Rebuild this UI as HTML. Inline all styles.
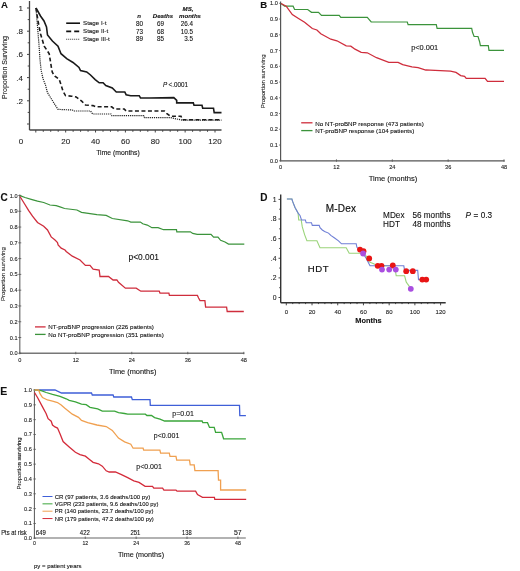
<!DOCTYPE html>
<html><head><meta charset="utf-8"><style>
html,body{margin:0;padding:0;background:#fff;width:520px;height:571px;overflow:hidden}
svg{display:block;font-family:"Liberation Sans", sans-serif;filter:blur(0.25px)}
text{stroke:currentColor;stroke-width:0.1px}
</style></head><body>
<svg width="520" height="571" viewBox="0 0 520 571">
<rect width="520" height="571" fill="#fff"/>
<text x="0.9" y="8.0" font-size="9.6" text-anchor="start" font-weight="bold" font-style="normal" fill="#111" color="#111">A</text>
<line x1="29.5" y1="1" x2="29.5" y2="130" stroke="#444" stroke-width="1.3"/>
<line x1="29.5" y1="130" x2="221.5" y2="130" stroke="#444" stroke-width="1.3"/>
<line x1="27.0" y1="124.0" x2="29.5" y2="124.0" stroke="#444" stroke-width="1"/>
<line x1="27.7" y1="112.4" x2="29.5" y2="112.4" stroke="#444" stroke-width="1"/>
<line x1="27.0" y1="100.8" x2="29.5" y2="100.8" stroke="#444" stroke-width="1"/>
<line x1="27.7" y1="89.2" x2="29.5" y2="89.2" stroke="#444" stroke-width="1"/>
<line x1="27.0" y1="77.6" x2="29.5" y2="77.6" stroke="#444" stroke-width="1"/>
<line x1="27.7" y1="66.0" x2="29.5" y2="66.0" stroke="#444" stroke-width="1"/>
<line x1="27.0" y1="54.400000000000006" x2="29.5" y2="54.400000000000006" stroke="#444" stroke-width="1"/>
<line x1="27.7" y1="42.80000000000001" x2="29.5" y2="42.80000000000001" stroke="#444" stroke-width="1"/>
<line x1="27.0" y1="31.19999999999999" x2="29.5" y2="31.19999999999999" stroke="#444" stroke-width="1"/>
<line x1="27.7" y1="19.599999999999994" x2="29.5" y2="19.599999999999994" stroke="#444" stroke-width="1"/>
<line x1="27.0" y1="8.0" x2="29.5" y2="8.0" stroke="#444" stroke-width="1"/>
<text x="23" y="11" font-size="8" text-anchor="end" font-weight="normal" font-style="normal" fill="#222" color="#222">1</text>
<text x="23" y="34.19999999999999" font-size="8" text-anchor="end" font-weight="normal" font-style="normal" fill="#222" color="#222">.8</text>
<text x="23" y="57.400000000000006" font-size="8" text-anchor="end" font-weight="normal" font-style="normal" fill="#222" color="#222">.6</text>
<text x="23" y="80.6" font-size="8" text-anchor="end" font-weight="normal" font-style="normal" fill="#222" color="#222">.4</text>
<text x="23" y="103.8" font-size="8" text-anchor="end" font-weight="normal" font-style="normal" fill="#222" color="#222">.2</text>
<line x1="35.8" y1="130" x2="35.8" y2="132.5" stroke="#444" stroke-width="1"/>
<line x1="43.266666666666666" y1="130" x2="43.266666666666666" y2="131.8" stroke="#444" stroke-width="1"/>
<line x1="50.733333333333334" y1="130" x2="50.733333333333334" y2="131.8" stroke="#444" stroke-width="1"/>
<line x1="58.199999999999996" y1="130" x2="58.199999999999996" y2="131.8" stroke="#444" stroke-width="1"/>
<line x1="65.66666666666666" y1="130" x2="65.66666666666666" y2="132.5" stroke="#444" stroke-width="1"/>
<line x1="73.13333333333333" y1="130" x2="73.13333333333333" y2="131.8" stroke="#444" stroke-width="1"/>
<line x1="80.6" y1="130" x2="80.6" y2="131.8" stroke="#444" stroke-width="1"/>
<line x1="88.06666666666666" y1="130" x2="88.06666666666666" y2="131.8" stroke="#444" stroke-width="1"/>
<line x1="95.53333333333333" y1="130" x2="95.53333333333333" y2="132.5" stroke="#444" stroke-width="1"/>
<line x1="102.99999999999999" y1="130" x2="102.99999999999999" y2="131.8" stroke="#444" stroke-width="1"/>
<line x1="110.46666666666667" y1="130" x2="110.46666666666667" y2="131.8" stroke="#444" stroke-width="1"/>
<line x1="117.93333333333334" y1="130" x2="117.93333333333334" y2="131.8" stroke="#444" stroke-width="1"/>
<line x1="125.39999999999999" y1="130" x2="125.39999999999999" y2="132.5" stroke="#444" stroke-width="1"/>
<line x1="132.86666666666667" y1="130" x2="132.86666666666667" y2="131.8" stroke="#444" stroke-width="1"/>
<line x1="140.33333333333331" y1="130" x2="140.33333333333331" y2="131.8" stroke="#444" stroke-width="1"/>
<line x1="147.8" y1="130" x2="147.8" y2="131.8" stroke="#444" stroke-width="1"/>
<line x1="155.26666666666665" y1="130" x2="155.26666666666665" y2="132.5" stroke="#444" stroke-width="1"/>
<line x1="162.73333333333332" y1="130" x2="162.73333333333332" y2="131.8" stroke="#444" stroke-width="1"/>
<line x1="170.2" y1="130" x2="170.2" y2="131.8" stroke="#444" stroke-width="1"/>
<line x1="177.66666666666669" y1="130" x2="177.66666666666669" y2="131.8" stroke="#444" stroke-width="1"/>
<line x1="185.13333333333333" y1="130" x2="185.13333333333333" y2="132.5" stroke="#444" stroke-width="1"/>
<line x1="192.60000000000002" y1="130" x2="192.60000000000002" y2="131.8" stroke="#444" stroke-width="1"/>
<line x1="200.06666666666666" y1="130" x2="200.06666666666666" y2="131.8" stroke="#444" stroke-width="1"/>
<line x1="207.5333333333333" y1="130" x2="207.5333333333333" y2="131.8" stroke="#444" stroke-width="1"/>
<line x1="215.0" y1="130" x2="215.0" y2="132.5" stroke="#444" stroke-width="1"/>
<text x="21" y="144" font-size="8" text-anchor="middle" font-weight="normal" font-style="normal" fill="#222" color="#222">0</text>
<text x="65.66666666666666" y="144" font-size="8" text-anchor="middle" font-weight="normal" font-style="normal" fill="#222" color="#222">20</text>
<text x="95.53333333333333" y="144" font-size="8" text-anchor="middle" font-weight="normal" font-style="normal" fill="#222" color="#222">40</text>
<text x="125.39999999999999" y="144" font-size="8" text-anchor="middle" font-weight="normal" font-style="normal" fill="#222" color="#222">60</text>
<text x="155.26666666666665" y="144" font-size="8" text-anchor="middle" font-weight="normal" font-style="normal" fill="#222" color="#222">80</text>
<text x="185.13333333333333" y="144" font-size="8" text-anchor="middle" font-weight="normal" font-style="normal" fill="#222" color="#222">100</text>
<text x="215.0" y="144" font-size="8" text-anchor="middle" font-weight="normal" font-style="normal" fill="#222" color="#222">120</text>
<text x="118" y="154.9" font-size="6.8" text-anchor="middle" font-weight="normal" font-style="normal" fill="#111" color="#111">Time (months)</text>
<text x="7" y="67.5" font-size="7.0" text-anchor="middle" font-weight="normal" font-style="normal" fill="#222" color="#222" transform="rotate(-90 7 67.5)">Proportion Surviving</text>
<polyline points="36.0,8.0 40.5,16.0 44.0,21.0 46.5,27.0 47.5,35.0 52.4,41.0 58.0,46.2 61.0,53.7 66.7,58.7 73.0,62.5 79.0,67.5 80.5,70.6 86.7,71.9 90.5,75.0 95.2,79.6 99.2,82.8 103.1,82.8 105.8,85.5 112.3,88.0 116.3,92.0 124.8,92.0 126.1,94.7 130.7,95.7 139.2,95.7 140.5,98.0 150.0,98.0 173.8,97.6 176.7,100.3 176.7,102.9 193.3,102.9 194.0,105.3 202.0,105.3 202.7,108.2 213.5,108.2 214.2,112.6 221.5,112.6" fill="none" stroke="#1a1a1a" stroke-width="1.6" stroke-linejoin="miter"/>
<polyline points="36.0,8.0 38.0,21.0 40.5,33.7 44.2,46.2 49.2,53.7 51.8,70.0 52.4,72.5 54.9,76.2 59.2,79.4 61.1,85.0 63.0,91.2 65.5,95.6 71.7,96.2 76.1,96.9 81.7,101.2 85.5,105.0 93.0,105.6 95.9,106.8 111.7,106.8 114.3,109.0 124.2,109.0 126.1,111.0 164.4,111.0 166.6,113.3 170.2,116.2 181.0,116.2 182.5,119.8 221.5,119.8" fill="none" stroke="#1a1a1a" stroke-width="1.6" stroke-linejoin="miter" stroke-dasharray="4 2.5"/>
<polyline points="36.0,8.0 37.4,25.0 39.2,47.5 40.0,60.0 41.1,70.0 43.0,78.7 45.5,85.0 47.4,92.5 50.5,97.5 53.6,102.5 58.0,109.4 72.4,110.0 74.2,111.0 90.5,111.0 92.6,114.0 111.0,114.0 111.7,115.7 143.8,115.7 144.5,117.6 170.2,117.6 182.5,120.2 221.5,120.2" fill="none" stroke="#222" stroke-width="1.2" stroke-linejoin="miter" stroke-dasharray="1.2 0.9"/>
<line x1="66.2" y1="23.2" x2="80" y2="23.2" stroke="#111" stroke-width="1.6"/>
<line x1="66.2" y1="31.4" x2="80" y2="31.4" stroke="#111" stroke-width="1.6" stroke-dasharray="5 3"/>
<line x1="66.2" y1="39.3" x2="80" y2="39.3" stroke="#333" stroke-width="1.1" stroke-dasharray="1 1"/>
<text x="83" y="25.3" font-size="6.2" text-anchor="start" font-weight="normal" font-style="normal" fill="#111" color="#111">Stage I-t</text>
<text x="83" y="33.2" font-size="6.2" text-anchor="start" font-weight="normal" font-style="normal" fill="#111" color="#111">Stage II-t</text>
<text x="83" y="41.1" font-size="6.2" text-anchor="start" font-weight="normal" font-style="normal" fill="#111" color="#111">Stage III-t</text>
<text x="139" y="18.4" font-size="6.1" text-anchor="middle" font-weight="bold" font-style="italic" fill="#111" color="#111">n</text>
<text x="163" y="18.4" font-size="6.1" text-anchor="middle" font-weight="bold" font-style="italic" fill="#111" color="#111">Deaths</text>
<text x="188" y="11.4" font-size="6.1" text-anchor="middle" font-weight="bold" font-style="italic" fill="#111" color="#111">MS,</text>
<text x="190" y="18.4" font-size="6.1" text-anchor="middle" font-weight="bold" font-style="italic" fill="#111" color="#111">months</text>
<text x="139.6" y="25.9" font-size="6.3" text-anchor="middle" font-weight="normal" font-style="normal" fill="#111" color="#111">80</text>
<text x="160.4" y="25.9" font-size="6.3" text-anchor="middle" font-weight="normal" font-style="normal" fill="#111" color="#111">69</text>
<text x="193" y="25.9" font-size="6.3" text-anchor="end" font-weight="normal" font-style="normal" fill="#111" color="#111">26.4</text>
<text x="139.6" y="33.5" font-size="6.3" text-anchor="middle" font-weight="normal" font-style="normal" fill="#111" color="#111">73</text>
<text x="160.4" y="33.5" font-size="6.3" text-anchor="middle" font-weight="normal" font-style="normal" fill="#111" color="#111">68</text>
<text x="193" y="33.5" font-size="6.3" text-anchor="end" font-weight="normal" font-style="normal" fill="#111" color="#111">10.5</text>
<text x="139.6" y="41.099999999999994" font-size="6.3" text-anchor="middle" font-weight="normal" font-style="normal" fill="#111" color="#111">89</text>
<text x="160.4" y="41.099999999999994" font-size="6.3" text-anchor="middle" font-weight="normal" font-style="normal" fill="#111" color="#111">85</text>
<text x="193" y="41.099999999999994" font-size="6.3" text-anchor="end" font-weight="normal" font-style="normal" fill="#111" color="#111">3.5</text>
<text x="163" y="86.6" font-size="6.3" text-anchor="start" font-weight="normal" font-style="italic" fill="#111" color="#111">P</text>
<text x="168.5" y="86.6" font-size="6.3" text-anchor="start" font-weight="normal" font-style="normal" fill="#111" color="#111">&lt;.0001</text>
<text x="260.2" y="8.0" font-size="9.6" text-anchor="start" font-weight="bold" font-style="normal" fill="#111" color="#111">B</text>
<line x1="280.6" y1="1.5" x2="280.6" y2="160.8" stroke="#555" stroke-width="1.2"/>
<line x1="280.6" y1="160.8" x2="504.6" y2="160.8" stroke="#555" stroke-width="1.2"/>
<line x1="279.1" y1="160.8" x2="280.6" y2="160.8" stroke="#555" stroke-width="0.8"/>
<text x="277.8" y="162.8" font-size="5.6" text-anchor="end" font-weight="normal" font-style="normal" fill="#222" color="#222">0.0</text>
<line x1="279.1" y1="145.05" x2="280.6" y2="145.05" stroke="#555" stroke-width="0.8"/>
<text x="277.8" y="147.05" font-size="5.6" text-anchor="end" font-weight="normal" font-style="normal" fill="#222" color="#222">0.1</text>
<line x1="279.1" y1="129.3" x2="280.6" y2="129.3" stroke="#555" stroke-width="0.8"/>
<text x="277.8" y="131.3" font-size="5.6" text-anchor="end" font-weight="normal" font-style="normal" fill="#222" color="#222">0.2</text>
<line x1="279.1" y1="113.55000000000001" x2="280.6" y2="113.55000000000001" stroke="#555" stroke-width="0.8"/>
<text x="277.8" y="115.55000000000001" font-size="5.6" text-anchor="end" font-weight="normal" font-style="normal" fill="#222" color="#222">0.3</text>
<line x1="279.1" y1="97.80000000000001" x2="280.6" y2="97.80000000000001" stroke="#555" stroke-width="0.8"/>
<text x="277.8" y="99.80000000000001" font-size="5.6" text-anchor="end" font-weight="normal" font-style="normal" fill="#222" color="#222">0.4</text>
<line x1="279.1" y1="82.05000000000001" x2="280.6" y2="82.05000000000001" stroke="#555" stroke-width="0.8"/>
<text x="277.8" y="84.05000000000001" font-size="5.6" text-anchor="end" font-weight="normal" font-style="normal" fill="#222" color="#222">0.5</text>
<line x1="279.1" y1="66.30000000000001" x2="280.6" y2="66.30000000000001" stroke="#555" stroke-width="0.8"/>
<text x="277.8" y="68.30000000000001" font-size="5.6" text-anchor="end" font-weight="normal" font-style="normal" fill="#222" color="#222">0.6</text>
<line x1="279.1" y1="50.55000000000001" x2="280.6" y2="50.55000000000001" stroke="#555" stroke-width="0.8"/>
<text x="277.8" y="52.55000000000001" font-size="5.6" text-anchor="end" font-weight="normal" font-style="normal" fill="#222" color="#222">0.7</text>
<line x1="279.1" y1="34.80000000000001" x2="280.6" y2="34.80000000000001" stroke="#555" stroke-width="0.8"/>
<text x="277.8" y="36.80000000000001" font-size="5.6" text-anchor="end" font-weight="normal" font-style="normal" fill="#222" color="#222">0.8</text>
<line x1="279.1" y1="19.05000000000001" x2="280.6" y2="19.05000000000001" stroke="#555" stroke-width="0.8"/>
<text x="277.8" y="21.05000000000001" font-size="5.6" text-anchor="end" font-weight="normal" font-style="normal" fill="#222" color="#222">0.9</text>
<line x1="279.1" y1="3.3000000000000114" x2="280.6" y2="3.3000000000000114" stroke="#555" stroke-width="0.8"/>
<text x="277.8" y="5.300000000000011" font-size="5.6" text-anchor="end" font-weight="normal" font-style="normal" fill="#222" color="#222">1.0</text>
<line x1="280.6" y1="159.3" x2="280.6" y2="161.8" stroke="#555" stroke-width="0.8"/>
<text x="280.6" y="169" font-size="5.6" text-anchor="middle" font-weight="normal" font-style="normal" fill="#222" color="#222">0</text>
<line x1="336.45000000000005" y1="159.3" x2="336.45000000000005" y2="161.8" stroke="#555" stroke-width="0.8"/>
<text x="336.45000000000005" y="169" font-size="5.6" text-anchor="middle" font-weight="normal" font-style="normal" fill="#222" color="#222">12</text>
<line x1="392.3" y1="159.3" x2="392.3" y2="161.8" stroke="#555" stroke-width="0.8"/>
<text x="392.3" y="169" font-size="5.6" text-anchor="middle" font-weight="normal" font-style="normal" fill="#222" color="#222">24</text>
<line x1="448.15" y1="159.3" x2="448.15" y2="161.8" stroke="#555" stroke-width="0.8"/>
<text x="448.15" y="169" font-size="5.6" text-anchor="middle" font-weight="normal" font-style="normal" fill="#222" color="#222">36</text>
<line x1="504.0" y1="159.3" x2="504.0" y2="161.8" stroke="#555" stroke-width="0.8"/>
<text x="504.0" y="169" font-size="5.6" text-anchor="middle" font-weight="normal" font-style="normal" fill="#222" color="#222">48</text>
<text x="393" y="181" font-size="7.6" text-anchor="middle" font-weight="normal" font-style="normal" fill="#111" color="#111">Time (months)</text>
<text x="264.8" y="81.3" font-size="6.1" text-anchor="middle" font-weight="normal" font-style="normal" fill="#222" color="#222" transform="rotate(-90 264.8 81.3)">Proportion surviving</text>
<polyline points="281.0,3.5 284.6,6.2 293.1,6.2 294.6,9.5 307.7,9.5 311.5,12.3 318.5,12.3 321.5,15.4 339.2,15.4 340.8,17.4 367.3,17.4 368.8,19.2 371.2,22.0 407.3,22.0 408.1,24.6 436.3,24.6 437.1,28.3 471.7,28.3 472.5,32.3 474.1,36.5 478.0,36.5 479.6,41.7 480.4,45.7 488.3,45.7 489.0,50.4 504.0,50.4" fill="none" stroke="#3b933b" stroke-width="1.2" stroke-linejoin="miter"/>
<polyline points="281.0,3.5 286.2,6.2 292.3,14.6 298.5,18.5 304.6,22.3 312.3,28.5 316.9,30.0 320.8,33.8 330.8,39.2 336.9,40.8 346.2,45.8 350.8,46.2 355.0,49.2 361.2,52.3 367.3,52.8 376.5,57.7 388.8,62.3 398.1,62.3 402.7,64.6 411.9,66.9 418.1,67.7 425.8,70.0 430.0,70.1 450.5,71.2 456.0,72.4 460.7,75.6 464.6,76.4 466.2,78.3 485.1,78.3 487.5,81.4 504.0,81.4" fill="none" stroke="#cf2d3c" stroke-width="1.3" stroke-linejoin="miter"/>
<text x="411.2" y="50.2" font-size="7.4" text-anchor="start" font-weight="normal" font-style="normal" fill="#111" color="#111">p&lt;0.001</text>
<line x1="301.2" y1="122.8" x2="312.5" y2="122.8" stroke="#cf2d3c" stroke-width="1.3"/>
<line x1="301.2" y1="130.6" x2="312.5" y2="130.6" stroke="#3b933b" stroke-width="1.3"/>
<text x="315.2" y="125.6" font-size="6.2" text-anchor="start" font-weight="normal" font-style="normal" fill="#111" color="#111" textLength="108.6" lengthAdjust="spacingAndGlyphs">No NT-proBNP response (473 patients)</text>
<text x="315.2" y="133.1" font-size="6.2" text-anchor="start" font-weight="normal" font-style="normal" fill="#111" color="#111" textLength="99.1" lengthAdjust="spacingAndGlyphs">NT-proBNP response (104 patients)</text>
<text x="0.6" y="200.8" font-size="10" text-anchor="start" font-weight="bold" font-style="normal" fill="#111" color="#111">C</text>
<line x1="19.75" y1="194.5" x2="19.75" y2="353.3" stroke="#8a8a8a" stroke-width="1.5"/>
<line x1="19.75" y1="353.3" x2="244.3" y2="353.3" stroke="#777" stroke-width="1.4"/>
<line x1="18.25" y1="353.3" x2="21.25" y2="353.3" stroke="#555" stroke-width="0.8"/>
<text x="17.6" y="355.3" font-size="5.6" text-anchor="end" font-weight="normal" font-style="normal" fill="#222" color="#222">0.0</text>
<line x1="18.25" y1="337.52" x2="21.25" y2="337.52" stroke="#555" stroke-width="0.8"/>
<text x="17.6" y="339.52" font-size="5.6" text-anchor="end" font-weight="normal" font-style="normal" fill="#222" color="#222">0.1</text>
<line x1="18.25" y1="321.74" x2="21.25" y2="321.74" stroke="#555" stroke-width="0.8"/>
<text x="17.6" y="323.74" font-size="5.6" text-anchor="end" font-weight="normal" font-style="normal" fill="#222" color="#222">0.2</text>
<line x1="18.25" y1="305.96000000000004" x2="21.25" y2="305.96000000000004" stroke="#555" stroke-width="0.8"/>
<text x="17.6" y="307.96000000000004" font-size="5.6" text-anchor="end" font-weight="normal" font-style="normal" fill="#222" color="#222">0.3</text>
<line x1="18.25" y1="290.18" x2="21.25" y2="290.18" stroke="#555" stroke-width="0.8"/>
<text x="17.6" y="292.18" font-size="5.6" text-anchor="end" font-weight="normal" font-style="normal" fill="#222" color="#222">0.4</text>
<line x1="18.25" y1="274.4" x2="21.25" y2="274.4" stroke="#555" stroke-width="0.8"/>
<text x="17.6" y="276.4" font-size="5.6" text-anchor="end" font-weight="normal" font-style="normal" fill="#222" color="#222">0.5</text>
<line x1="18.25" y1="258.62" x2="21.25" y2="258.62" stroke="#555" stroke-width="0.8"/>
<text x="17.6" y="260.62" font-size="5.6" text-anchor="end" font-weight="normal" font-style="normal" fill="#222" color="#222">0.6</text>
<line x1="18.25" y1="242.84" x2="21.25" y2="242.84" stroke="#555" stroke-width="0.8"/>
<text x="17.6" y="244.84" font-size="5.6" text-anchor="end" font-weight="normal" font-style="normal" fill="#222" color="#222">0.7</text>
<line x1="18.25" y1="227.06" x2="21.25" y2="227.06" stroke="#555" stroke-width="0.8"/>
<text x="17.6" y="229.06" font-size="5.6" text-anchor="end" font-weight="normal" font-style="normal" fill="#222" color="#222">0.8</text>
<line x1="18.25" y1="211.28" x2="21.25" y2="211.28" stroke="#555" stroke-width="0.8"/>
<text x="17.6" y="213.28" font-size="5.6" text-anchor="end" font-weight="normal" font-style="normal" fill="#222" color="#222">0.9</text>
<line x1="18.25" y1="195.5" x2="21.25" y2="195.5" stroke="#555" stroke-width="0.8"/>
<text x="17.6" y="197.5" font-size="5.6" text-anchor="end" font-weight="normal" font-style="normal" fill="#222" color="#222">1.0</text>
<line x1="19.75" y1="351.8" x2="19.75" y2="354.3" stroke="#555" stroke-width="0.8"/>
<text x="19.75" y="361.6" font-size="5.6" text-anchor="middle" font-weight="normal" font-style="normal" fill="#222" color="#222">0</text>
<line x1="75.76250000000002" y1="351.8" x2="75.76250000000002" y2="354.3" stroke="#555" stroke-width="0.8"/>
<text x="75.76250000000002" y="361.6" font-size="5.6" text-anchor="middle" font-weight="normal" font-style="normal" fill="#222" color="#222">12</text>
<line x1="131.77500000000003" y1="351.8" x2="131.77500000000003" y2="354.3" stroke="#555" stroke-width="0.8"/>
<text x="131.77500000000003" y="361.6" font-size="5.6" text-anchor="middle" font-weight="normal" font-style="normal" fill="#222" color="#222">24</text>
<line x1="187.7875" y1="351.8" x2="187.7875" y2="354.3" stroke="#555" stroke-width="0.8"/>
<text x="187.7875" y="361.6" font-size="5.6" text-anchor="middle" font-weight="normal" font-style="normal" fill="#222" color="#222">36</text>
<line x1="243.80000000000004" y1="351.8" x2="243.80000000000004" y2="354.3" stroke="#555" stroke-width="0.8"/>
<text x="243.80000000000004" y="361.6" font-size="5.6" text-anchor="middle" font-weight="normal" font-style="normal" fill="#222" color="#222">48</text>
<text x="132.7" y="374" font-size="7.4" text-anchor="middle" font-weight="normal" font-style="normal" fill="#111" color="#111">Time (months)</text>
<text x="5.3" y="274.1" font-size="6.1" text-anchor="middle" font-weight="normal" font-style="normal" fill="#222" color="#222" transform="rotate(-90 5.3 274.1)">Proportion surviving</text>
<polyline points="20.0,195.6 25.0,197.5 31.2,199.4 37.5,201.2 43.7,202.5 50.0,205.0 56.2,205.6 60.0,206.9 64.6,208.5 76.9,210.0 81.5,212.3 96.9,214.6 106.2,215.4 112.3,218.5 127.7,220.8 130.8,222.1 140.4,222.0 142.7,223.8 147.3,225.1 151.9,227.7 158.1,227.7 163.5,229.7 176.5,229.7 176.8,231.8 190.4,231.8 192.7,233.4 197.2,234.3 211.0,234.3 213.6,237.1 218.0,237.1 220.6,240.3 225.0,242.0 228.5,244.1 244.3,244.1" fill="none" stroke="#3b933b" stroke-width="1.2" stroke-linejoin="miter"/>
<polyline points="20.0,196.5 23.7,202.5 28.7,210.6 32.5,216.2 37.5,222.5 43.7,226.2 47.5,230.0 51.2,236.9 55.0,240.0 57.5,242.5 58.1,245.0 61.2,248.1 65.0,250.0 66.2,251.5 72.3,256.2 80.0,260.0 85.4,265.4 90.0,265.4 93.1,269.2 99.2,270.0 100.0,276.5 108.5,276.5 113.1,280.0 116.9,280.0 118.5,282.3 125.4,288.2 136.2,288.2 140.8,291.2 159.2,291.2 160.0,293.1 168.9,293.1 169.4,295.4 197.4,295.4 198.6,298.0 200.0,300.6 204.9,300.6 205.6,307.1 226.6,307.1 227.2,311.5 243.8,311.5" fill="none" stroke="#cf2d3c" stroke-width="1.3" stroke-linejoin="miter"/>
<text x="128.5" y="260" font-size="8.4" text-anchor="start" font-weight="normal" font-style="normal" fill="#111" color="#111">p&lt;0.001</text>
<line x1="35" y1="326.9" x2="45.6" y2="326.9" stroke="#cf2d3c" stroke-width="1.3"/>
<line x1="35" y1="334.4" x2="45.6" y2="334.4" stroke="#3b933b" stroke-width="1.3"/>
<text x="48.3" y="329.2" font-size="6.2" text-anchor="start" font-weight="normal" font-style="normal" fill="#111" color="#111" textLength="105.6" lengthAdjust="spacingAndGlyphs">NT-proBNP progression (226 patients)</text>
<text x="48.3" y="336.9" font-size="6.2" text-anchor="start" font-weight="normal" font-style="normal" fill="#111" color="#111" textLength="115.5" lengthAdjust="spacingAndGlyphs">No NT-proBNP progression (351 patients)</text>
<text x="260.2" y="200.7" font-size="10" text-anchor="start" font-weight="bold" font-style="normal" fill="#111" color="#111">D</text>
<line x1="280.7" y1="194.5" x2="280.7" y2="302.8" stroke="#333" stroke-width="1.4"/>
<line x1="280.7" y1="302.8" x2="445.7" y2="302.8" stroke="#333" stroke-width="1.4"/>
<line x1="278.5" y1="297.5" x2="280.7" y2="297.5" stroke="#333" stroke-width="0.9"/>
<line x1="279.2" y1="287.69" x2="280.7" y2="287.69" stroke="#333" stroke-width="0.9"/>
<line x1="278.5" y1="277.88" x2="280.7" y2="277.88" stroke="#333" stroke-width="0.9"/>
<line x1="279.2" y1="268.07" x2="280.7" y2="268.07" stroke="#333" stroke-width="0.9"/>
<line x1="278.5" y1="258.26" x2="280.7" y2="258.26" stroke="#333" stroke-width="0.9"/>
<line x1="279.2" y1="248.45" x2="280.7" y2="248.45" stroke="#333" stroke-width="0.9"/>
<line x1="278.5" y1="238.64000000000001" x2="280.7" y2="238.64000000000001" stroke="#333" stroke-width="0.9"/>
<line x1="279.2" y1="228.83" x2="280.7" y2="228.83" stroke="#333" stroke-width="0.9"/>
<line x1="278.5" y1="219.01999999999998" x2="280.7" y2="219.01999999999998" stroke="#333" stroke-width="0.9"/>
<line x1="279.2" y1="209.21" x2="280.7" y2="209.21" stroke="#333" stroke-width="0.9"/>
<line x1="278.5" y1="199.4" x2="280.7" y2="199.4" stroke="#333" stroke-width="0.9"/>
<text x="276.5" y="201.8" font-size="6.8" text-anchor="end" font-weight="normal" font-style="normal" fill="#222" color="#222">1</text>
<text x="276.5" y="221.42" font-size="6.8" text-anchor="end" font-weight="normal" font-style="normal" fill="#222" color="#222">.8</text>
<text x="276.5" y="241.04000000000002" font-size="6.8" text-anchor="end" font-weight="normal" font-style="normal" fill="#222" color="#222">.6</text>
<text x="276.5" y="260.65999999999997" font-size="6.8" text-anchor="end" font-weight="normal" font-style="normal" fill="#222" color="#222">.4</text>
<text x="276.5" y="280.28" font-size="6.8" text-anchor="end" font-weight="normal" font-style="normal" fill="#222" color="#222">.2</text>
<text x="276.5" y="299.9" font-size="6.8" text-anchor="end" font-weight="normal" font-style="normal" fill="#222" color="#222">0</text>
<line x1="286.3" y1="302.8" x2="286.3" y2="305.3" stroke="#333" stroke-width="0.9"/>
<line x1="292.729" y1="302.8" x2="292.729" y2="304.1" stroke="#333" stroke-width="0.9"/>
<line x1="299.158" y1="302.8" x2="299.158" y2="304.1" stroke="#333" stroke-width="0.9"/>
<line x1="305.587" y1="302.8" x2="305.587" y2="304.1" stroke="#333" stroke-width="0.9"/>
<line x1="312.016" y1="302.8" x2="312.016" y2="305.3" stroke="#333" stroke-width="0.9"/>
<line x1="318.445" y1="302.8" x2="318.445" y2="304.1" stroke="#333" stroke-width="0.9"/>
<line x1="324.874" y1="302.8" x2="324.874" y2="304.1" stroke="#333" stroke-width="0.9"/>
<line x1="331.303" y1="302.8" x2="331.303" y2="304.1" stroke="#333" stroke-width="0.9"/>
<line x1="337.732" y1="302.8" x2="337.732" y2="305.3" stroke="#333" stroke-width="0.9"/>
<line x1="344.161" y1="302.8" x2="344.161" y2="304.1" stroke="#333" stroke-width="0.9"/>
<line x1="350.59000000000003" y1="302.8" x2="350.59000000000003" y2="304.1" stroke="#333" stroke-width="0.9"/>
<line x1="357.019" y1="302.8" x2="357.019" y2="304.1" stroke="#333" stroke-width="0.9"/>
<line x1="363.448" y1="302.8" x2="363.448" y2="305.3" stroke="#333" stroke-width="0.9"/>
<line x1="369.877" y1="302.8" x2="369.877" y2="304.1" stroke="#333" stroke-width="0.9"/>
<line x1="376.30600000000004" y1="302.8" x2="376.30600000000004" y2="304.1" stroke="#333" stroke-width="0.9"/>
<line x1="382.735" y1="302.8" x2="382.735" y2="304.1" stroke="#333" stroke-width="0.9"/>
<line x1="389.164" y1="302.8" x2="389.164" y2="305.3" stroke="#333" stroke-width="0.9"/>
<line x1="395.593" y1="302.8" x2="395.593" y2="304.1" stroke="#333" stroke-width="0.9"/>
<line x1="402.02200000000005" y1="302.8" x2="402.02200000000005" y2="304.1" stroke="#333" stroke-width="0.9"/>
<line x1="408.451" y1="302.8" x2="408.451" y2="304.1" stroke="#333" stroke-width="0.9"/>
<line x1="414.88" y1="302.8" x2="414.88" y2="305.3" stroke="#333" stroke-width="0.9"/>
<line x1="421.309" y1="302.8" x2="421.309" y2="304.1" stroke="#333" stroke-width="0.9"/>
<line x1="427.73800000000006" y1="302.8" x2="427.73800000000006" y2="304.1" stroke="#333" stroke-width="0.9"/>
<line x1="434.16700000000003" y1="302.8" x2="434.16700000000003" y2="304.1" stroke="#333" stroke-width="0.9"/>
<line x1="440.596" y1="302.8" x2="440.596" y2="305.3" stroke="#333" stroke-width="0.9"/>
<text x="286.3" y="313.8" font-size="6.0" text-anchor="middle" font-weight="normal" font-style="normal" fill="#222" color="#222">0</text>
<text x="312.016" y="313.8" font-size="6.0" text-anchor="middle" font-weight="normal" font-style="normal" fill="#222" color="#222">20</text>
<text x="337.732" y="313.8" font-size="6.0" text-anchor="middle" font-weight="normal" font-style="normal" fill="#222" color="#222">40</text>
<text x="363.448" y="313.8" font-size="6.0" text-anchor="middle" font-weight="normal" font-style="normal" fill="#222" color="#222">60</text>
<text x="389.164" y="313.8" font-size="6.0" text-anchor="middle" font-weight="normal" font-style="normal" fill="#222" color="#222">80</text>
<text x="414.88" y="313.8" font-size="6.0" text-anchor="middle" font-weight="normal" font-style="normal" fill="#222" color="#222">100</text>
<text x="440.596" y="313.8" font-size="6.0" text-anchor="middle" font-weight="normal" font-style="normal" fill="#222" color="#222">120</text>
<text x="368.5" y="322.9" font-size="7.4" text-anchor="middle" font-weight="bold" font-style="normal" fill="#111" color="#111">Months</text>
<text x="340.9" y="211.8" font-size="10.0" text-anchor="middle" font-weight="normal" font-style="normal" fill="#111" color="#111" letter-spacing="0.2" style="stroke-width:0.18px">M-Dex</text>
<text x="318.5" y="271.9" font-size="9.6" text-anchor="middle" font-weight="normal" font-style="normal" fill="#111" color="#111" letter-spacing="0.6" style="stroke-width:0.18px">HDT</text>
<text x="383.1" y="218" font-size="8.2" text-anchor="start" font-weight="normal" font-style="normal" fill="#111" color="#111">MDex</text>
<text x="412.4" y="218" font-size="8.2" text-anchor="start" font-weight="normal" font-style="normal" fill="#111" color="#111">56 months</text>
<text x="465.5" y="218" font-size="8.2" text-anchor="start" font-weight="normal" font-style="italic" fill="#111" color="#111">P</text>
<text x="473.6" y="218" font-size="8.2" text-anchor="start" font-weight="normal" font-style="normal" fill="#111" color="#111">= 0.3</text>
<text x="383.1" y="226.8" font-size="8.2" text-anchor="start" font-weight="normal" font-style="normal" fill="#111" color="#111">HDT</text>
<text x="412.4" y="226.8" font-size="8.2" text-anchor="start" font-weight="normal" font-style="normal" fill="#111" color="#111">48 months</text>
<polyline points="286.9,199.0 291.9,199.0 292.5,201.2 295.0,207.5 298.1,213.1 298.7,220.0 301.2,220.0 302.3,226.9 304.6,234.6 306.9,240.7 316.9,240.7 320.0,247.7 346.2,247.7 349.2,253.3 360.0,253.3 366.9,256.5 369.2,261.9 373.1,263.5 377.7,265.8 394.6,265.8 396.2,275.8 404.6,275.8 406.2,281.9 407.7,284.2 410.0,287.3" fill="none" stroke="#9ad47a" stroke-width="1.1" stroke-linejoin="miter"/>
<polyline points="286.9,199.0 291.9,199.0 292.5,201.2 295.0,207.5 298.1,213.1 300.0,215.4 301.5,220.0 305.4,220.0 306.2,222.8 311.5,222.8 312.3,225.4 319.2,225.4 320.0,227.7 322.3,230.0 324.6,231.5 328.5,233.1 330.8,235.4 334.6,238.0 338.5,240.8 341.5,243.8 356.2,243.8 356.9,247.3 362.0,252.0 366.0,258.0 370.0,265.8 403.8,265.8 404.6,270.4 417.7,270.4 418.5,279.6 426.9,279.6" fill="none" stroke="#6f7fd6" stroke-width="1.1" stroke-linejoin="miter"/>
<circle cx="360" cy="249.6" r="2.9" fill="#e81515"/>
<circle cx="363.5" cy="251.2" r="2.9" fill="#e81515"/>
<circle cx="369.2" cy="258.4" r="2.9" fill="#e81515"/>
<circle cx="377.7" cy="265.8" r="2.9" fill="#e81515"/>
<circle cx="381.5" cy="265.8" r="2.9" fill="#e81515"/>
<circle cx="392.8" cy="265.5" r="2.9" fill="#e81515"/>
<circle cx="406.2" cy="271.2" r="2.9" fill="#e81515"/>
<circle cx="412.8" cy="271.2" r="2.9" fill="#e81515"/>
<circle cx="422.3" cy="279.6" r="2.9" fill="#e81515"/>
<circle cx="426.2" cy="279.6" r="2.9" fill="#e81515"/>
<circle cx="363.1" cy="253.5" r="2.9" fill="#a94ee0"/>
<circle cx="382" cy="269.6" r="2.9" fill="#a94ee0"/>
<circle cx="389.2" cy="269.6" r="2.9" fill="#a94ee0"/>
<circle cx="395.8" cy="269.6" r="2.9" fill="#a94ee0"/>
<circle cx="410.8" cy="288.8" r="2.9" fill="#a94ee0"/>
<text x="0.3" y="394.5" font-size="10.5" text-anchor="start" font-weight="bold" font-style="normal" fill="#111" color="#111">E</text>
<line x1="34.4" y1="389" x2="34.4" y2="538" stroke="#555" stroke-width="1.0"/>
<line x1="34.4" y1="538" x2="245.8" y2="538" stroke="#666" stroke-width="1.2"/>
<line x1="33.4" y1="538.3" x2="35.9" y2="538.3" stroke="#555" stroke-width="0.8"/>
<text x="31.8" y="540.3" font-size="5.6" text-anchor="end" font-weight="normal" font-style="normal" fill="#222" color="#222">0.0</text>
<line x1="33.4" y1="523.4699999999999" x2="35.9" y2="523.4699999999999" stroke="#555" stroke-width="0.8"/>
<text x="31.8" y="525.4699999999999" font-size="5.6" text-anchor="end" font-weight="normal" font-style="normal" fill="#222" color="#222">0.1</text>
<line x1="33.4" y1="508.63999999999993" x2="35.9" y2="508.63999999999993" stroke="#555" stroke-width="0.8"/>
<text x="31.8" y="510.63999999999993" font-size="5.6" text-anchor="end" font-weight="normal" font-style="normal" fill="#222" color="#222">0.2</text>
<line x1="33.4" y1="493.80999999999995" x2="35.9" y2="493.80999999999995" stroke="#555" stroke-width="0.8"/>
<text x="31.8" y="495.80999999999995" font-size="5.6" text-anchor="end" font-weight="normal" font-style="normal" fill="#222" color="#222">0.3</text>
<line x1="33.4" y1="478.97999999999996" x2="35.9" y2="478.97999999999996" stroke="#555" stroke-width="0.8"/>
<text x="31.8" y="480.97999999999996" font-size="5.6" text-anchor="end" font-weight="normal" font-style="normal" fill="#222" color="#222">0.4</text>
<line x1="33.4" y1="464.15" x2="35.9" y2="464.15" stroke="#555" stroke-width="0.8"/>
<text x="31.8" y="466.15" font-size="5.6" text-anchor="end" font-weight="normal" font-style="normal" fill="#222" color="#222">0.5</text>
<line x1="33.4" y1="449.31999999999994" x2="35.9" y2="449.31999999999994" stroke="#555" stroke-width="0.8"/>
<text x="31.8" y="451.31999999999994" font-size="5.6" text-anchor="end" font-weight="normal" font-style="normal" fill="#222" color="#222">0.6</text>
<line x1="33.4" y1="434.48999999999995" x2="35.9" y2="434.48999999999995" stroke="#555" stroke-width="0.8"/>
<text x="31.8" y="436.48999999999995" font-size="5.6" text-anchor="end" font-weight="normal" font-style="normal" fill="#222" color="#222">0.7</text>
<line x1="33.4" y1="419.65999999999997" x2="35.9" y2="419.65999999999997" stroke="#555" stroke-width="0.8"/>
<text x="31.8" y="421.65999999999997" font-size="5.6" text-anchor="end" font-weight="normal" font-style="normal" fill="#222" color="#222">0.8</text>
<line x1="33.4" y1="404.8299999999999" x2="35.9" y2="404.8299999999999" stroke="#555" stroke-width="0.8"/>
<text x="31.8" y="406.8299999999999" font-size="5.6" text-anchor="end" font-weight="normal" font-style="normal" fill="#222" color="#222">0.9</text>
<line x1="33.4" y1="389.99999999999994" x2="35.9" y2="389.99999999999994" stroke="#555" stroke-width="0.8"/>
<text x="31.8" y="391.99999999999994" font-size="5.6" text-anchor="end" font-weight="normal" font-style="normal" fill="#222" color="#222">1.0</text>
<line x1="34.4" y1="536.5" x2="34.4" y2="539" stroke="#555" stroke-width="0.8"/>
<text x="34.4" y="545.3" font-size="5.2" text-anchor="middle" font-weight="normal" font-style="normal" fill="#222" color="#222">0</text>
<line x1="85.275" y1="536.5" x2="85.275" y2="539" stroke="#555" stroke-width="0.8"/>
<text x="85.275" y="545.3" font-size="5.2" text-anchor="middle" font-weight="normal" font-style="normal" fill="#222" color="#222">12</text>
<line x1="136.15" y1="536.5" x2="136.15" y2="539" stroke="#555" stroke-width="0.8"/>
<text x="136.15" y="545.3" font-size="5.2" text-anchor="middle" font-weight="normal" font-style="normal" fill="#222" color="#222">24</text>
<line x1="187.025" y1="536.5" x2="187.025" y2="539" stroke="#555" stroke-width="0.8"/>
<text x="187.025" y="545.3" font-size="5.2" text-anchor="middle" font-weight="normal" font-style="normal" fill="#222" color="#222">36</text>
<line x1="237.9" y1="536.5" x2="237.9" y2="539" stroke="#555" stroke-width="0.8"/>
<text x="237.9" y="545.3" font-size="5.2" text-anchor="middle" font-weight="normal" font-style="normal" fill="#222" color="#222">48</text>
<text x="141" y="557" font-size="7.2" text-anchor="middle" font-weight="normal" font-style="normal" fill="#111" color="#111">Time (months)</text>
<text x="20.8" y="463.4" font-size="5.9" text-anchor="middle" font-weight="normal" font-style="normal" fill="#222" color="#222" transform="rotate(-90 20.8 463.4)">Proportion surviving</text>
<text x="1.2" y="534.8" font-size="6.3" text-anchor="start" font-weight="normal" font-style="normal" fill="#111" color="#111" textLength="25.6" lengthAdjust="spacingAndGlyphs">Pts at risk</text>
<text x="35.8" y="535" font-size="6.6" text-anchor="start" font-weight="normal" font-style="normal" fill="#111" color="#111" textLength="10" lengthAdjust="spacingAndGlyphs">649</text>
<text x="79.8" y="535" font-size="6.6" text-anchor="start" font-weight="normal" font-style="normal" fill="#111" color="#111" textLength="10" lengthAdjust="spacingAndGlyphs">422</text>
<text x="130.4" y="535" font-size="6.6" text-anchor="start" font-weight="normal" font-style="normal" fill="#111" color="#111" textLength="10" lengthAdjust="spacingAndGlyphs">251</text>
<text x="182.1" y="535" font-size="6.6" text-anchor="start" font-weight="normal" font-style="normal" fill="#111" color="#111" textLength="9.6" lengthAdjust="spacingAndGlyphs">138</text>
<text x="234" y="535" font-size="6.6" text-anchor="start" font-weight="normal" font-style="normal" fill="#111" color="#111" textLength="7.7" lengthAdjust="spacingAndGlyphs">57</text>
<text x="34" y="568" font-size="6.0" text-anchor="start" font-weight="normal" font-style="normal" fill="#111" color="#111">py = patient years</text>
<polyline points="34.5,390.0 55.0,390.0 57.5,391.2 61.5,393.0 91.5,393.0 92.3,395.0 113.1,395.0 113.8,397.0 131.5,397.0 132.3,399.6 150.0,399.6 150.3,405.4 239.5,405.4 239.8,415.7 245.9,415.7" fill="none" stroke="#3f5fd8" stroke-width="1.3" stroke-linejoin="miter"/>
<polyline points="34.5,390.0 41.2,390.6 46.2,392.5 52.5,394.4 60.0,396.4 66.2,398.8 69.2,400.4 75.4,401.9 81.5,404.2 86.2,404.7 90.0,407.3 97.7,408.8 102.3,411.2 114.6,411.2 118.5,412.7 124.6,413.5 127.7,414.2 145.4,414.2 146.9,415.5 151.5,415.5 154.6,417.6 160.0,419.2 164.6,421.0 202.1,421.0 202.8,422.7 207.5,422.7 209.5,427.4 214.2,427.4 215.6,432.4 221.6,432.4 223.6,438.8 245.9,438.8" fill="none" stroke="#3aa53a" stroke-width="1.3" stroke-linejoin="miter"/>
<polyline points="34.5,390.0 38.7,390.0 40.0,393.7 42.5,397.5 47.5,400.0 52.5,401.2 57.5,402.5 61.2,405.0 64.6,408.1 72.3,414.2 78.5,417.3 81.5,420.4 87.7,422.7 96.9,425.0 106.2,426.5 112.3,430.4 118.5,438.1 124.6,441.9 130.8,444.2 133.1,448.2 143.1,448.2 143.7,450.2 159.9,450.2 160.6,453.2 169.3,453.2 170.0,456.4 176.0,456.4 176.7,460.2 189.5,460.2 190.2,464.9 194.2,464.9 194.9,470.6 218.1,470.6 218.5,480.2 220.6,480.2 220.6,490.0 246.2,490.0" fill="none" stroke="#f0a050" stroke-width="1.3" stroke-linejoin="miter"/>
<polyline points="34.5,392.5 37.5,397.5 42.5,406.9 46.2,413.7 48.1,418.7 51.2,421.2 52.5,425.0 55.0,426.9 57.5,428.1 60.0,433.7 63.1,441.5 69.2,446.9 75.4,452.3 80.0,454.6 85.4,456.2 89.2,459.2 93.1,462.3 98.5,463.8 102.3,466.2 106.2,470.8 109.2,472.0 115.4,472.0 121.5,474.6 127.7,477.7 133.8,480.8 139.0,482.4 145.1,486.4 152.5,486.4 153.8,488.2 162.6,488.2 163.9,490.1 176.0,490.1 177.0,491.1 195.6,491.1 197.5,494.6 202.5,497.4 214.4,497.4 214.8,499.3 246.2,499.3" fill="none" stroke="#d42b3a" stroke-width="1.3" stroke-linejoin="miter"/>
<text x="172.3" y="415.8" font-size="7.0" text-anchor="start" font-weight="normal" font-style="normal" fill="#111" color="#111">p=0.01</text>
<text x="153.8" y="437.5" font-size="7.0" text-anchor="start" font-weight="normal" font-style="normal" fill="#111" color="#111">p&lt;0.001</text>
<text x="136.3" y="468.7" font-size="7.0" text-anchor="start" font-weight="normal" font-style="normal" fill="#111" color="#111">p&lt;0.001</text>
<line x1="42.5" y1="496.5" x2="52.5" y2="496.5" stroke="#3f5fd8" stroke-width="1.0"/>
<text x="54.7" y="498.7" font-size="6.0" text-anchor="start" font-weight="normal" font-style="normal" fill="#111" color="#111" textLength="95.6" lengthAdjust="spacingAndGlyphs">CR (97 patients, 3.6 deaths/100 py)</text>
<line x1="42.5" y1="503.85" x2="52.5" y2="503.85" stroke="#3aa53a" stroke-width="1.0"/>
<text x="54.7" y="506.05" font-size="6.0" text-anchor="start" font-weight="normal" font-style="normal" fill="#111" color="#111" textLength="103.7" lengthAdjust="spacingAndGlyphs">VGPR (233 patients, 9.6 deaths/100 py)</text>
<line x1="42.5" y1="511.2" x2="52.5" y2="511.2" stroke="#f0a050" stroke-width="1.0"/>
<text x="54.7" y="513.4" font-size="6.0" text-anchor="start" font-weight="normal" font-style="normal" fill="#111" color="#111" textLength="98.8" lengthAdjust="spacingAndGlyphs">PR (140 patients, 23.7 deaths/100 py)</text>
<line x1="42.5" y1="518.55" x2="52.5" y2="518.55" stroke="#d42b3a" stroke-width="1.0"/>
<text x="54.7" y="520.75" font-size="6.0" text-anchor="start" font-weight="normal" font-style="normal" fill="#111" color="#111" textLength="99.1" lengthAdjust="spacingAndGlyphs">NR (179 patients, 47.2 deaths/100 py)</text>
</svg></body></html>
